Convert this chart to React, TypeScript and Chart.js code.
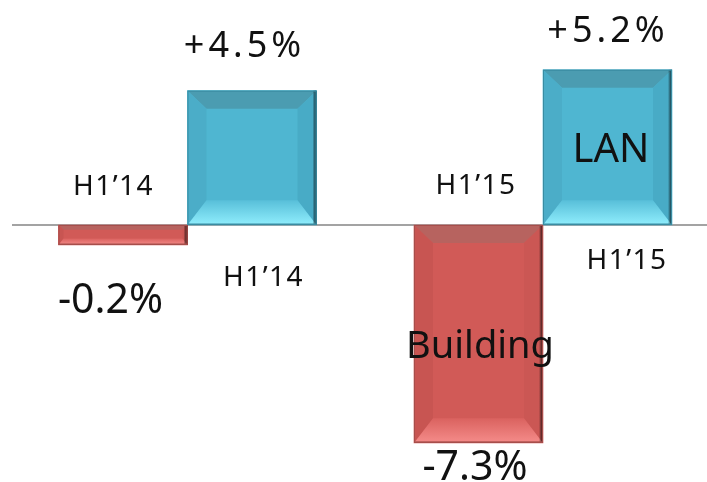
import React, { useEffect, useRef } from "react";
import { Chart, registerables } from "chart.js";

Chart.register(...registerables);

// ---- data ----
const categories = ["H1’14", "H1’15"];
const seriesNames = ["Building", "LAN"];
const buildingValues = [-0.2, -7.3];
const lanValues = [4.5, 5.2];
const yAxisMin = -8.61;
const yAxisMax = 7.538;

const fmt = (v: number) =>
  (v > 0 ? "+" : v < 0 ? "-" : "") + Math.abs(v).toFixed(1) + "%";

// ---- styles ----
const palettes = [
  {
    face: "#D15A57",
    top: "#B7635F",
    left: "#C85552",
    right: "#CB5754",
    bottomIn: "#DA625F",
    bottomOut: "#F58C8A",
    edge: "#3A1918",
    outline: "#A64E4B",
  },
  {
    face: "#4FB6D1",
    top: "#4B9CB1",
    left: "#4BADC8",
    right: "#48ABC6",
    bottomIn: "#58BFD9",
    bottomOut: "#90EEFD",
    edge: "#1B3E49",
    outline: "#3A8CA2",
  },
];

const FONT = '"Noto Sans", "DejaVu Sans", sans-serif';

const layoutOpts = {
  valueOffsets: [
    [
      { dx: -12.5, dy: 68 },
      { dx: -3.5, dy: 37 },
    ],
    [
      { dx: -7.5, dy: -33.7 },
      { dx: 0.5, dy: -27.8 },
    ],
  ],
  categoryOffsets: [
    [
      { dx: -9.5, dy: -30 },
      { dx: -2.5, dy: -31 },
    ],
    [
      { dx: 11.5, dy: 61 },
      { dx: 19.5, dy: 44 },
    ],
  ],
  seriesLabels: [
    { index: 1, dx: 1.5, dy: 24, size: 38 },
    { index: 1, dx: 3.5, dy: 14.6, size: 40 },
  ],
};

function drawBevelBar(ctx: CanvasRenderingContext2D, l: number, t: number, r: number, b: number, p: any) {
  const w = r - l;
  const h = b - t;
  const d = Math.min(19, h * 0.25, w * 0.25);
  const dt = d * 0.95;
  const db = d * 1.3;
  ctx.save();
  ctx.fillStyle = p.face;
  ctx.fillRect(l, t, w, h);

  // top
  ctx.beginPath();
  ctx.moveTo(l, t);
  ctx.lineTo(r, t);
  ctx.lineTo(r - d, t + dt);
  ctx.lineTo(l + d, t + dt);
  ctx.closePath();
  ctx.fillStyle = p.top;
  ctx.fill();

  // left
  ctx.beginPath();
  ctx.moveTo(l, t);
  ctx.lineTo(l + d, t + dt);
  ctx.lineTo(l + d, b - db);
  ctx.lineTo(l, b);
  ctx.closePath();
  ctx.fillStyle = p.left;
  ctx.fill();

  // right
  ctx.beginPath();
  ctx.moveTo(r, t);
  ctx.lineTo(r - d, t + dt);
  ctx.lineTo(r - d, b - db);
  ctx.lineTo(r, b);
  ctx.closePath();
  ctx.fillStyle = p.right;
  ctx.fill();

  // bottom
  ctx.beginPath();
  ctx.moveTo(l, b);
  ctx.lineTo(r, b);
  ctx.lineTo(r - d, b - db);
  ctx.lineTo(l + d, b - db);
  ctx.closePath();
  const g = ctx.createLinearGradient(0, b - db, 0, b);
  g.addColorStop(0, p.bottomIn);
  g.addColorStop(1, p.bottomOut);
  ctx.fillStyle = g;
  ctx.fill();

  // right dark edge
  const ge = ctx.createLinearGradient(r - 4, 0, r, 0);
  ge.addColorStop(0, "rgba(0,0,0,0)");
  ge.addColorStop(1, p.edge);
  ctx.fillStyle = ge;
  ctx.fillRect(r - 4, t, 4, h);

  // bottom dark line
  ctx.fillStyle = p.outline;
  ctx.fillRect(l, b - 1.5, w, 1.5);

  ctx.strokeStyle = p.outline;
  ctx.lineWidth = 1;
  ctx.strokeRect(l + 0.5, t + 0.5, w - 1, h - 1);
  ctx.restore();
}

const bevelPlugin = {
  id: "bevelLabels",
  beforeDatasetsDraw(chart: any) {
    const ctx = chart.ctx as CanvasRenderingContext2D;
    const y0 = chart.scales.y.getPixelForValue(0);
    ctx.save();
    ctx.strokeStyle = "#A3A3A3";
    ctx.lineWidth = 2;
    ctx.beginPath();
    ctx.moveTo(12, y0);
    ctx.lineTo(chart.width, y0);
    ctx.stroke();
    ctx.restore();
  },
  afterDatasetsDraw(chart: any) {
    const ctx = chart.ctx as CanvasRenderingContext2D;
    const y0 = chart.scales.y.getPixelForValue(0);
    chart.data.datasets.forEach((ds: any, di: number) => {
      const meta = chart.getDatasetMeta(di);
      meta.data.forEach((el: any) => {
        const { x, y, base, width } = el.getProps(["x", "y", "base", "width"], true);
        const l = x - width / 2;
        const r = x + width / 2;
        const t = Math.min(y, base);
        const b = Math.max(y, base);
        drawBevelBar(ctx, l, t, r, b, palettes[di]);
      });
    });
    // labels
    ctx.save();
    ctx.fillStyle = "#111111";
    ctx.textAlign = "center";
    ctx.textBaseline = "alphabetic";
    chart.data.datasets.forEach((ds: any, di: number) => {
      const meta = chart.getDatasetMeta(di);
      meta.data.forEach((el: any, i: number) => {
        const { x, y } = el.getProps(["x", "y"], true);
        const v = ds.data[i];
        const vo = layoutOpts.valueOffsets[di][i];
        ctx.font = `${v < 0 ? 41 : 36}px ${FONT}`;
        (ctx as any).letterSpacing = v < 0 ? "0px" : "4px";
        ctx.fillText(fmt(v), x + vo.dx, y + vo.dy);

        const co = layoutOpts.categoryOffsets[di][i];
        ctx.font = `28px ${FONT}`;
        (ctx as any).letterSpacing = "1.5px";
        ctx.fillText(chart.data.labels[i], x + co.dx, y0 + co.dy);
      });
      const sl = layoutOpts.seriesLabels[di];
      const el = meta.data[sl.index];
      const { x, y, base } = el.getProps(["x", "y", "base"], true);
      ctx.font = `${sl.size}px ${FONT}`;
      (ctx as any).letterSpacing = "0px";
      ctx.fillText(ds.label, x + sl.dx, (y + base) / 2 + sl.dy);
    });
    ctx.restore();
  },
};

export default function App() {
  const ref = useRef<HTMLCanvasElement | null>(null);
  useEffect(() => {
    if (!ref.current) return;
    const chart = new Chart(ref.current, {
      type: "bar",
      data: {
        labels: categories,
        datasets: [
          {
            label: seriesNames[0],
            data: buildingValues,
            backgroundColor: palettes[0].face,
            borderWidth: 0,
            clip: false as any,
          },
          {
            label: seriesNames[1],
            data: lanValues,
            backgroundColor: palettes[1].face,
            borderWidth: 0,
            clip: false as any,
          },
        ],
      },
      options: {
        responsive: false,
        animation: false,
        events: [],
        layout: { padding: { left: 187.5, right: 164, top: 0, bottom: 0 } },
        datasets: { bar: { barThickness: 129, minBarLength: 20 } } as any,
        plugins: {
          legend: { display: false },
          tooltip: { enabled: false },
        },
        scales: {
          x: { display: false, offset: false, grid: { display: false } },
          y: { display: false, min: yAxisMin, max: yAxisMax, grid: { display: false } },
        },
      },
      plugins: [bevelPlugin],
    });
    return () => chart.destroy();
  }, []);
  return (
    <div style={{ position: "fixed", left: 0, top: 0, width: 707, height: 482, background: "#fff" }}>
      <canvas ref={ref} width={707} height={482} style={{ display: "block" }} />
    </div>
  );
}
